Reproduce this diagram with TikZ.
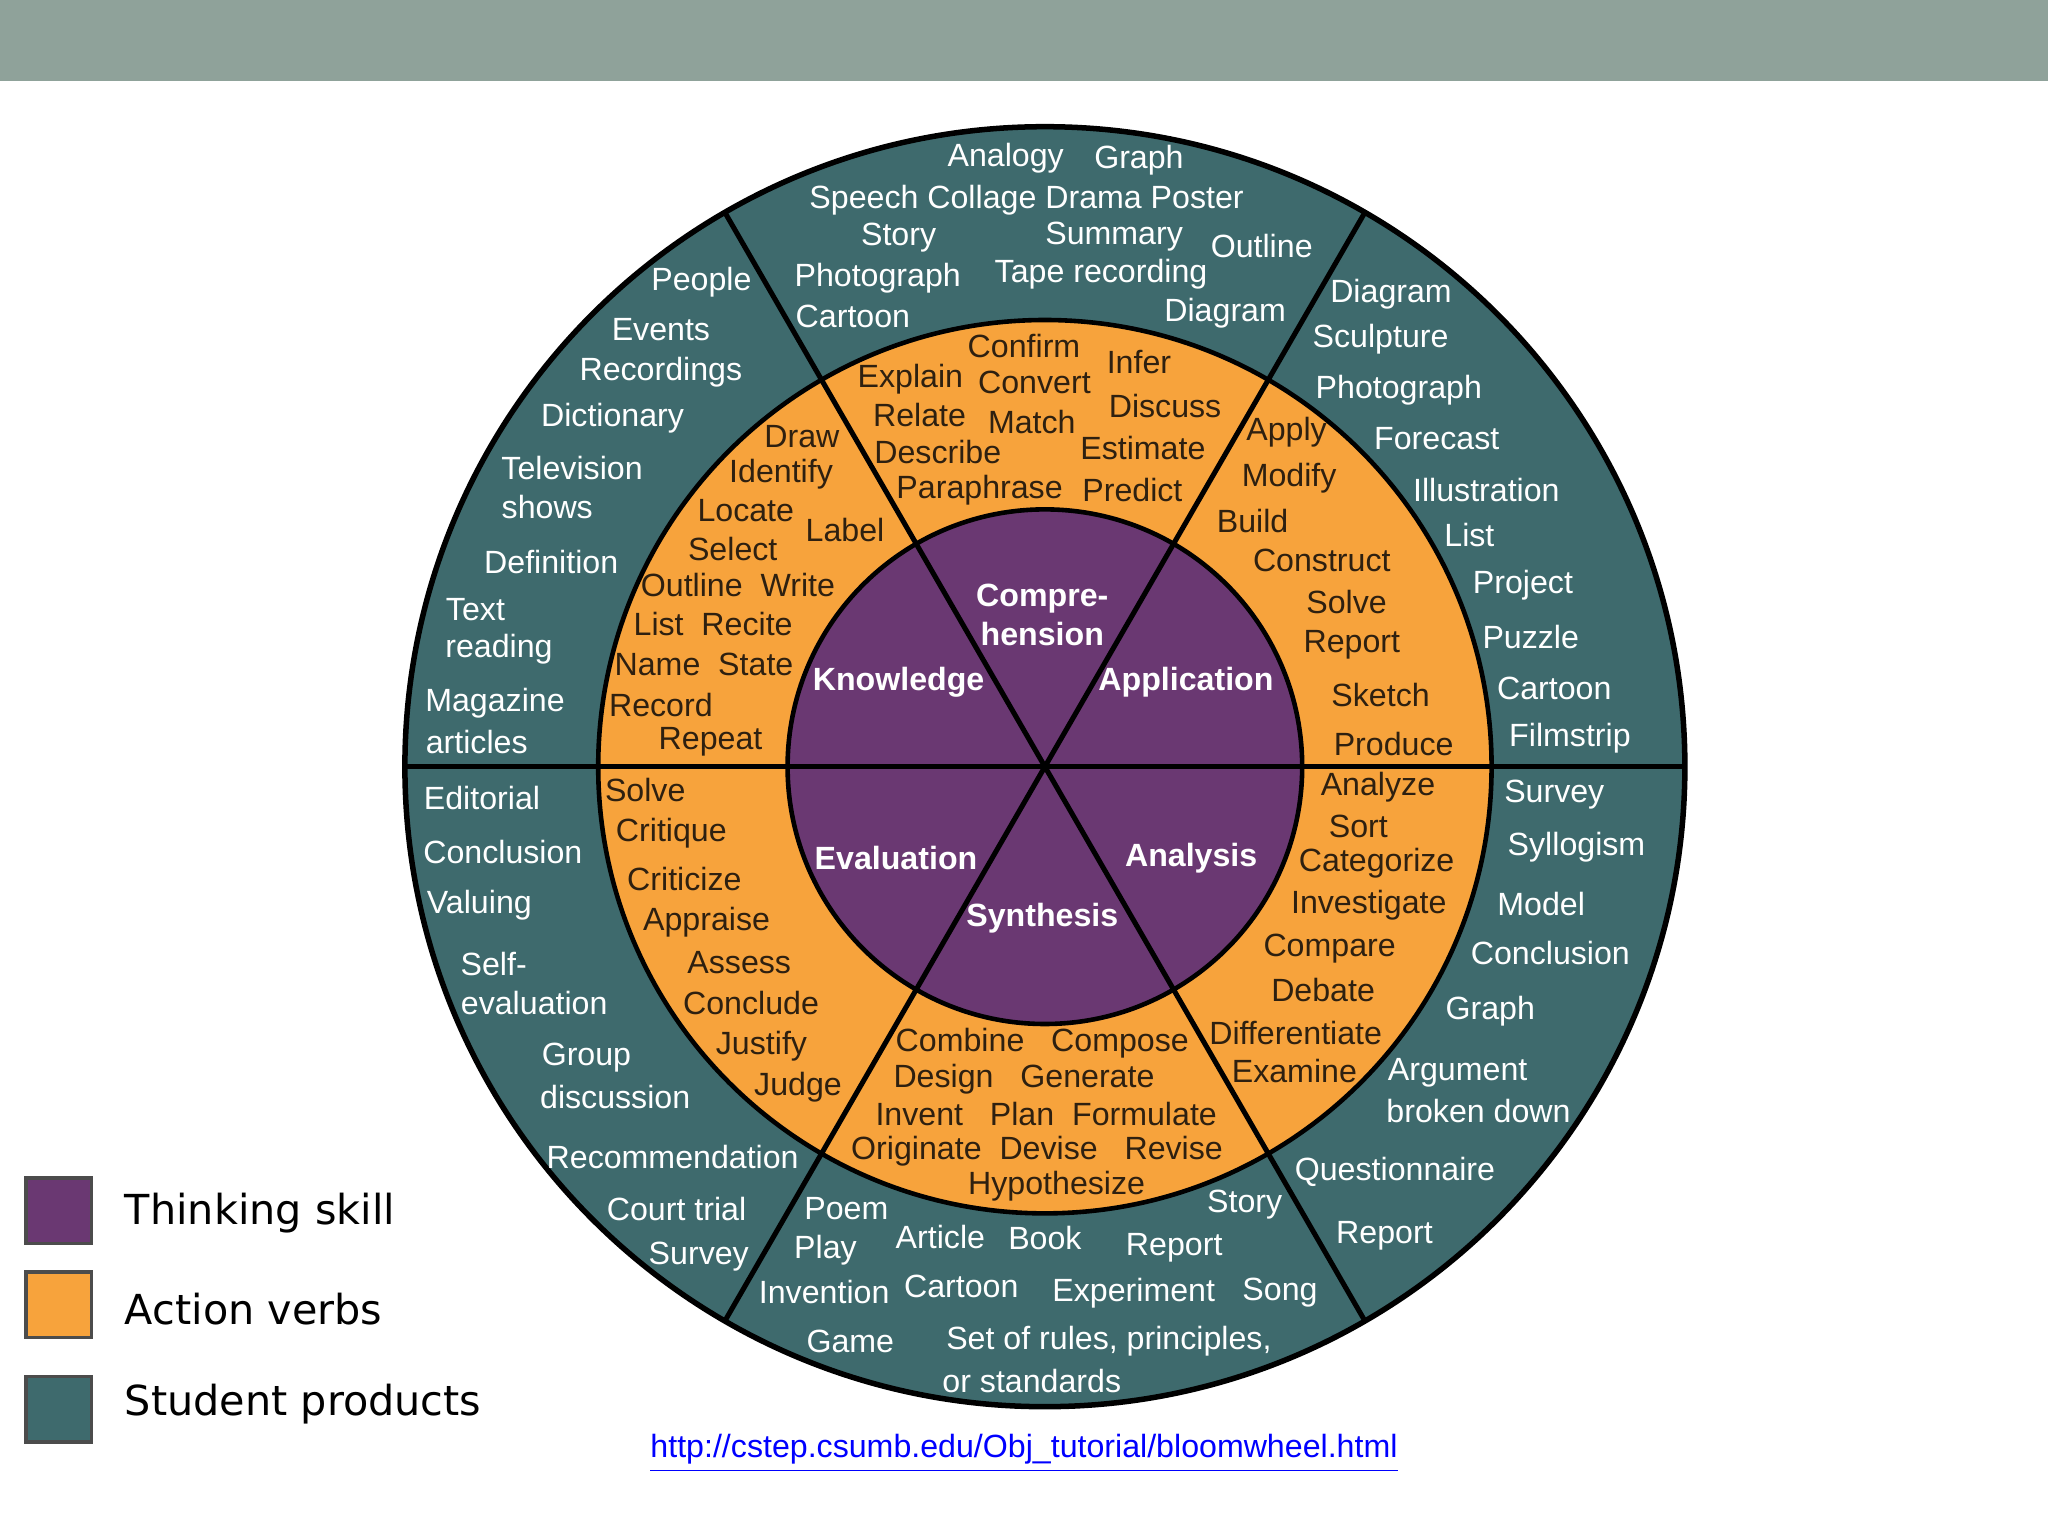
\documentclass[tikz,border=0pt]{standalone}
\usepackage{fontspec}
\usetikzlibrary{calc}
\setmainfont{Liberation Sans}
\newfontfamily\legfont{DejaVu Sans}
\definecolor{band}{HTML}{8FA29A}
\definecolor{teal}{HTML}{3E6A6D}
\definecolor{orng}{HTML}{F7A33C}
\definecolor{purp}{HTML}{6A3872}
\definecolor{ink}{HTML}{2E2010}
\begin{document}
\begin{tikzpicture}[x=0.01cm,y=-0.01cm,
  tl/.style={text=white,font=\fontsize{7}{7.5}\selectfont,inner sep=0pt},
  ol/.style={text=ink,font=\fontsize{7}{7.5}\selectfont,inner sep=0pt},
  pl/.style={text=white,font=\fontsize{7}{8.5}\selectfont\bfseries,inner sep=0pt,align=center},
  legbox/.style={draw=black!70,line width=0.8pt,minimum size=0.5cm,inner sep=0pt},
  legtxt/.style={anchor=west,font=\legfont\fontsize{9}{10}\selectfont,inner sep=0pt},
  divider/.style={line width=1.1pt,black}]
\useasboundingbox (0,0) rectangle (1568,1176);
\fill[band] (0,0) rectangle (1568,62);
\coordinate (c) at (800,587);
\fill[teal,draw=black,line width=1.2pt] (c) circle[radius=490];
\fill[orng] (c) circle[radius=342];
\fill[purp] (c) circle[radius=197];
\foreach \a in {0,60,120}
  \draw[divider] ($(c)+(\a:490)$) -- ($(c)+(\a+180:490)$);
\draw[line width=1pt] (c) circle[radius=342];
\draw[line width=1pt] (c) circle[radius=197];
% teal texts
\foreach \x/\y/\t [count=\i] in {770/121/Analogy,872/123/Graph,786/153/Speech Collage Drama Poster,688/182/Story,853/181/Summary,966/188/Outline,672/213/Photograph,843/210/Tape recording,653/242/Cartoon,938/240/Diagram,
1065/225/Diagram,1057/260/Sculpture,1071/299/Photograph,1100/336/Forecast,1138/375/Illustration,1125/410/List,1166/448/Project,1172/488/Puzzle,1190/527/Cartoon,1202/565/Filmstrip,
537/216/People,506/252/Events,506/285/Recordings,469/320/Dictionary,438/358/Television,419/388/shows,422/430/Definition,364/467/Text,382/497/reading,379/538/Magazine,365/568/articles,
369/611/Editorial,385/652/Conclusion,367/693/Valuing,378/738/Self-,409/768/evaluation,449/810/Group,471/840/discussion,515/886/Recommendation,518/926/Court trial,535/962/Survey,
648/925/Poem,953/922/Story,632/957/Play,720/947/Article,800/948/Book,899/955/Report,631/989/Invention,736/985/Cartoon,868/990/Experiment,980/990/Song,651/1027/Game,849/1027/{Set of rules, principles,},790/1057/or standards,
1190/608/Survey,1207/649/Syllogism,1180/692/Model,1187/730/Conclusion,1141/774/Graph,1116/821/Argument,1132/851/broken down,1068/897/Questionnaire,1060/946/Report}
  \node[tl] (t\i) at (\x,\y) {\t};
% orange texts
\foreach \x/\y/\t [count=\i] in {614/334/Draw,598/363/Identify,571/391/Locate,647/406/Label,561/420/Select,565/448/Outline\ \ Write,546/478/List\ \ Recite,539/509/Name\ \ State,506/540/Record,544/568/Repeat,
784/265/Confirm,872/277/Infer,697/290/Explain,792/293/Convert,892/311/Discuss,704/318/Relate,790/323/Match,718/346/Describe,875/343/Estimate,750/375/Paraphrase,867/375/Predict,
985/331/Apply,987/366/Modify,959/399/Build,1012/429/Construct,1031/461/Solve,1035/494/Report,1057/532/Sketch,1067/570/Produce,
1055/603/Analyze,1040/633/Sort,1054/661/Categorize,1048/693/Investigate,1018/726/Compare,1013/758/Debate,992/791/Differentiate,991/820/Examine,
798/799/Combine\ \ \ Compose,784/826/Design\ \ \ Generate,801/853/Invent\ \ \ Plan\ \ Formulate,794/881/Originate\ \ Devise\ \ \ Revise,809/908/Hypothesize,
494/605/Solve,514/638/Critique,524/673/Criticize,541/706/Appraise,566/737/Assess,575/768/Conclude,583/801/Justify,611/832/Judge}
  \node[ol] (o\i) at (\x,\y) {\t};
% purple
\node[pl] (p1) at (798,471) {Compre-\\hension};
\node[pl] (p2) at (688,522) {Knowledge};
\node[pl] (p3) at (908,522) {Application};
\node[pl] (p4) at (686,657) {Evaluation};
\node[pl] (p5) at (912,657) {Analysis};
\node[pl] (p6) at (798,703) {Synthesis};
% legend
\node[legbox,fill=purp] (l1) at (45,927) {};
\node[legbox,fill=orng] (l2) at (45,999) {};
\node[legbox,fill=teal] (l3) at (45,1079) {};
\node[legtxt] (lt1) at (95,929) {Thinking skill};
\node[legtxt] (lt2) at (95,1002) {Action verbs};
\node[legtxt] (lt3) at (95,1075) {Student products};
\node[inner sep=0pt,text=blue,font=\fontsize{7}{8}\selectfont] (url) at (784,1113) {\underline{http://cstep.csumb.edu/Obj\_tutorial/bloomwheel.html}};
\end{tikzpicture}
\end{document}
